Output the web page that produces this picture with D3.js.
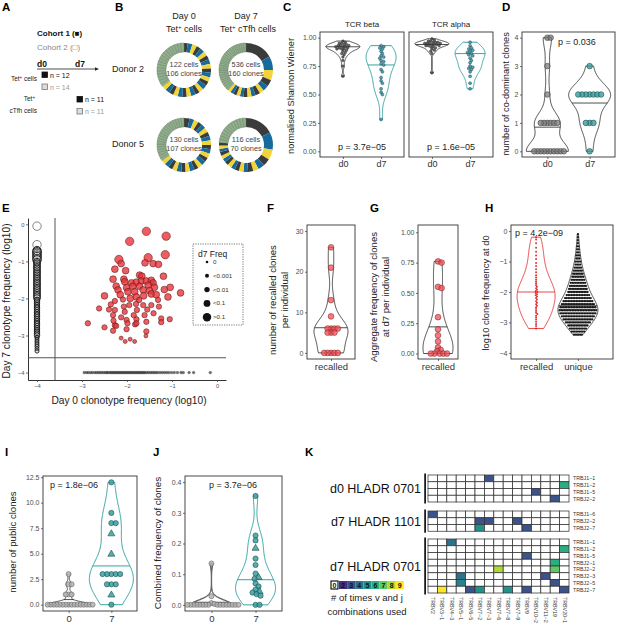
<!DOCTYPE html>
<html><head><meta charset="utf-8">
<script src="https://cdn.jsdelivr.net/npm/d3@7"></script>
<style>body{margin:0;background:#fff}</style>
</head><body><script>
// ================= DATA =================
// A
const tetCellsN = [12, 14];
const tfhCellsN = [11, 11];
// B donuts (order: Donor2 d0, Donor2 d7, Donor5 d0, Donor5 d7)
const donutDays = ["Day 0", "Day 7"];
const donutSubs = ["cells", "cTfh cells"];
const donorNames = ["Donor 2", "Donor 5"];
const donutCells = [122, 536, 130, 116];
const donutClones = [106, 160, 107, 70];
const donutExpanded = [
  [8,10,10,9,10,10,9,10,10,9,10,10,9,10,10,9,10,10,9,10,10,9,10,10],
  [60,30,22,15,12,10,10,9,9,8,8,8,7,7,7],
  [12,10,10,9,10,10,9,10,10,9,10,10,9,10,10,9,10,10,9,10,10,9,10,10],
  [62,38,22,16,14,12,11,10,10,9,9,9,8,8,8,8,7,7,7]
];
const donutSingles = [18, 26, 20, 12];
const donutSingleWeight = [7, 5.3, 6.25, 7];
// C
const cFacets = ["TCR beta", "TCR alpha"];
const cBetaD0 = [0.97,0.96,0.95,0.95,0.94,0.94,0.93,0.93,0.93,0.92,0.92,0.92,0.91,0.91,0.9,0.9,0.89,0.88,0.87,0.86,0.85,0.83,0.8,0.75,0.66,0.9];
const cBetaD7 = [0.93,0.92,0.91,0.9,0.88,0.86,0.84,0.83,0.82,0.8,0.79,0.77,0.76,0.72,0.7,0.65,0.62,0.6,0.55,0.52,0.5,0.28];
const cAlphaD0 = [0.99,0.98,0.97,0.97,0.96,0.96,0.96,0.95,0.95,0.95,0.95,0.94,0.94,0.94,0.93,0.93,0.93,0.92,0.92,0.91,0.9,0.89,0.88,0.86,0.69];
const cAlphaD7 = [0.96,0.93,0.91,0.9,0.89,0.88,0.87,0.86,0.85,0.84,0.82,0.8,0.78,0.75,0.74,0.73,0.72,0.7,0.66,0.6,0.55];
const cLines = [[0.92, 0.76], [0.94, 0.86]];
const cP = ["p = 3.7e\u221205", "p = 1.6e\u221205"];
const days = ["d0", "d7"];
// D
const dD0 = [4,4,3,2,1,1,1,1,1,1,0,0,0,0,0,0,0,0,0,0];
const dD7 = [3,2,2,2,2,2,2,2,1,1,1,0];
const dLines = [0.85, 1.7];
// E
const eRecalled = [
[-1.57,-0.19],[-1.13,-0.32],[-1.94,-0.46],[-1.15,-0.82],[-1.53,-0.9],[-2.18,-0.95],[-2.13,-1.06],[-1.6,-1.04],[-1.42,-1.06],[-1.3,-1.08],
[-2.03,-1.25],[-2.27,-1.21],[-2.31,-1.48],[-2.07,-1.48],[-1.72,-1.37],[-1.67,-1.4],[-1.19,-1.4],[-2.05,-1.55],[-1.9,-1.58],[-1.79,-1.56],
[-1.68,-1.53],[-1.57,-1.53],[-1.46,-1.51],[-1.42,-1.58],[-2.24,-1.67],[-2.01,-1.71],[-1.87,-1.67],[-1.72,-1.67],[-1.53,-1.64],[-1.39,-1.7],
[-2.2,-1.77],[-1.98,-1.82],[-1.83,-1.82],[-1.64,-1.77],[-1.5,-1.79],[-1.17,-1.76],[-1.04,-1.7],[-0.81,-1.85],[-2.5,-1.93],[-1.79,-1.96],
[-1.63,-1.93],[-1.46,-1.88],[-2.09,-2.03],[-1.93,-2.0],[-1.73,-2.04],[-1.31,-2.04],[-1.09,-1.96],[-2.27,-2.07],[-2.36,-2.16],[-2.07,-2.22],
[-1.95,-2.18],[-1.8,-2.15],[-1.64,-2.18],[-1.46,-2.18],[-1.29,-2.22],[-2.62,-2.27],[-2.27,-2.31],[-2.05,-2.36],[-1.78,-2.31],[-1.61,-2.45],
[-1.41,-2.4],[-1.24,-2.54],[-1.05,-2.56],[-2.31,-2.45],[-2.13,-2.51],[-2.01,-2.58],[-1.79,-2.56],[-1.57,-2.63],[-2.5,-2.78],[-2.27,-2.72],
[-2.24,-2.74],[-1.99,-2.67],[-1.82,-2.7],[-1.79,-2.67],[-2.87,-2.67],[-1.24,-2.64],[-2.31,-2.87],[-2.01,-2.83],[-1.57,-2.89],[-1.58,-3.01],
[-2.13,-3.07],[-2.04,-3.16],[-1.93,-3.1],[-1.83,-3.16],[-2.3,-2.6],[-1.85,-2.45],[-2.15,-1.9],[-1.55,-2.3],[-1.35,-1.9],[-2.4,-2.3]
];
const eD7OnlyY = [-0.05,-0.55,-0.71,-0.74,-0.78,-0.83,-0.87,-0.92,-0.96,-1.01,-1.05,-1.1,-1.15,-1.19,-1.24,-1.29,-1.33,-1.38,-1.43,-1.47,-1.52,-1.57,-1.61,-1.66,-1.71,-1.75,-1.8,-1.85,-1.9,-1.94,-1.99,-2.04,-2.08,-2.13,-2.18,-2.23,-2.27,-2.32,-2.37,-2.42,-2.46,-2.51,-2.56,-2.61,-2.66,-2.7,-2.75,-2.8,-2.85,-2.9,-2.95,-3.0,-3.05,-3.1,-3.15,-3.2,-3.25,-3.3,-3.36,-3.42];
const eD0OnlyX = [-2.95,-2.9,-2.86,-2.81,-2.77,-2.72,-2.68,-2.64,-2.6,-2.56,-2.52,-2.48,-2.45,-2.42,-2.38,-2.35,-2.32,-2.29,-2.26,-2.23,-2.2,-2.17,-2.14,-2.11,-2.08,-2.05,-2.02,-1.99,-1.96,-1.93,-1.9,-1.87,-1.84,-1.81,-1.78,-1.75,-1.72,-1.69,-1.66,-1.63,-1.6,-1.56,-1.52,-1.48,-1.44,-1.4,-1.36,-1.32,-1.27,-1.22,-1.17,-1.12,-1.07,-1.01,-0.95,-0.88,-0.8,-0.75,-0.62,-0.52,-0.15];
const eTicks = [-4,-3,-2,-1,0];
const eThreshold = -3.6;
const eSizeBreaks = [-3.99,-3,-2,-1];
const eLegendLabels = ["0","<0.001","<0.01","<0.1",">0.1"];
// F, G
const fValues = [26,21,13,9,6,6,6,6,5,5,5,0,0,0,0,0];
const fLine = 6.2;
const gValues = [0.76,0.75,0.55,0.54,0.3,0.2,0.15,0.1,0.05,0.03,0.02,0,0,0,0,0];
const gLine = 0.22;
// H
const hGroups = ["recalled","unique"];
const hRecalled = [-0.2,-0.28,-0.4,-0.55,-0.68,-0.8,-0.92,-1.05,-1.15,-1.25,-1.35,-1.45,-1.52,-1.6,-1.66,-1.72,-1.78,-1.83,-1.88,-1.93,-1.97,-2.0,-2.03,-2.07,-2.11,-2.15,-2.2,-2.25,-2.3,-2.35,-2.4,-2.45,-2.5,-2.56,-2.62,-2.68,-2.72,-2.78,-2.84,-2.9,-2.98,-3.05,-3.12,-3.2];
const hUniqueBins = [-3.4,-3.3,-3.2,-3.1,-3.0,-2.9,-2.8,-2.7,-2.6,-2.5,-2.4,-2.3,-2.2,-2.1,-2.0,-1.9,-1.8,-1.7,-1.6,-1.5,-1.4,-1.3,-1.2,-1.1,-1.0,-0.9,-0.8,-0.7,-0.6,-0.5,-0.4,-0.3,-0.2,-0.1];
const hUniqueCounts = [6,9,11,13,16,19,21,23,24,23,21,19,17,15,13,12,11,10,9,8,7,6,5,4,4,3,3,2,2,2,1,1,1,1];
const hLines = [-2.0, -2.45];
// I, J
const ijDays = ["0","7"];
const iD0 = [0,0,0,0,0,0,0,0,0,0,0,0,0,0,0,0,1,1,1,2,2,3];
const iD7 = [12,9,8,8,7,5,3,3,3,3,3,2,2,2,1,0];
const iD7Cohort = [1,1,1,1,2,2,1,1,1,1,1,1,1,1,2,1];
const iLines = [0.5, 3.8];
const jD0 = [0.135,0.028,0.006,0.003,0,0,0,0,0,0,0,0,0,0,0,0,0,0,0,0];
const jD7 = [0.355,0.226,0.21,0.186,0.151,0.13,0.102,0.091,0.085,0.07,0.06,0.05,0.045,0.04,0.035,0.03,0,0];
const jD7Cohort = [1,1,1,2,1,1,1,2,1,1,1,1,2,1,1,1,1,1];
const jLines = [0.008, 0.082];
// K
const kColumns = ["TRBV2","TRBV3\u22121","TRBV4\u22123","TRBV5\u22121","TRBV6\u22125","TRBV7\u22122","TRBV7\u22123","TRBV7\u22126","TRBV7\u22128","TRBV7\u22129","TRBV9","TRBV10\u22122","TRBV11\u22122","TRBV19","TRBV20\u22121"];
const kBlockLabels = ["d0 HLADR 0701","d7 HLADR 1101","d7 HLADR 0701"];
const kRowsA = ["TRBJ1\u22121","TRBJ1\u22122","TRBJ1\u22125","TRBJ2\u22122"];
const kRowsB = ["TRBJ1\u22126","TRBJ2\u22122","TRBJ2\u22127"];
const kRowsC = ["TRBJ1\u22121","TRBJ1\u22122","TRBJ1\u22125","TRBJ2\u22121","TRBJ2\u22122","TRBJ2\u22123","TRBJ2\u22125","TRBJ2\u22127"];
const kCellsA = [[0,6,3],[1,14,6],[2,11,3],[3,13,3]];
const kCellsB = [[0,0,3],[1,5,3],[1,6,3],[1,9,3],[2,5,5],[2,10,3]];
const kCellsC = [[0,2,4],[1,14,6],[2,10,3],[3,13,6],[4,7,8],[4,13,7],[5,3,4],[5,12,3],[6,3,4.5],[6,13,3],[7,1,9],[7,4,3],[7,5,5],[7,8,5],[7,10,3],[7,14,3]];
const kLegendValues = [0,2,3,4,5,6,7,8,9];

// ================= SETUP =================
const FONT = '"Liberation Sans", Arial, Helvetica, sans-serif';
const TEAL = "#1f9a9a", TEALPT = "#3a9e9e", RED = "#e8343a";
const svg = d3.select("body").append("svg").attr("width",617).attr("height",630).attr("font-family",FONT);

function T(x,y,s,o={}){
  const t = svg.append("text").attr("x",x).attr("y",y).attr("font-size",o.fs||8)
    .attr("fill",o.fill||"#1a1a1a").attr("text-anchor",o.a||"start").text(s);
  if(o.bold) t.attr("font-weight","bold");
  if(o.rot!=null) t.attr("transform",`rotate(${o.rot},${x},${y})`);
  return t;
}
function Tsup(x,y,base,sup,rest,o={}){
  const fs=o.fs||8; const t=T(x,y,"",o);
  t.append("tspan").text(base);
  t.append("tspan").attr("dy",-fs*0.38).attr("font-size",fs*0.68).text(sup);
  t.append("tspan").attr("dy",fs*0.38).text(rest);
  return t;
}
function letter(x,y,s){ T(x,y,s,{fs:11.5,bold:true,fill:"#000"}); }
function styleAxis(g,fs,col){
  g.attr("font-family",FONT).attr("font-size",fs);
  g.selectAll("text").attr("fill",col||"#4d4d4d");
  g.selectAll(".tick line").attr("stroke","#333").attr("stroke-width",0.7);
}
function box(x0,x1,y0,y1){
  svg.append("rect").attr("x",x0).attr("y",y0).attr("width",x1-x0).attr("height",y1-y0)
    .attr("fill","none").attr("stroke","#333").attr("stroke-width",0.9);
}
function yAxis(y,x0,ticks,fmt,fs){
  const g=svg.append("g").attr("transform",`translate(${x0},0)`)
    .call(d3.axisLeft(y).tickValues(ticks).tickFormat(fmt).tickSize(2).tickPadding(1.5));
  g.select(".domain").remove(); styleAxis(g,fs||7);
}
function xAxis(x,y1,fs){
  const g=svg.append("g").attr("transform",`translate(0,${y1})`)
    .call(d3.axisBottom(x).tickSize(2).tickPadding(2));
  g.select(".domain").remove(); styleAxis(g,fs||9,"#333");
}
function kde(values){
  const s=values.slice().sort(d3.ascending), n=s.length;
  const sd=d3.deviation(s)||0;
  const iqr=d3.quantile(s,0.75)-d3.quantile(s,0.25);
  let lo=Math.min(sd,iqr/1.34); if(!(lo>0)) lo = sd || Math.abs(s[0]) || 1;
  const bw=0.9*lo*Math.pow(n,-0.2);
  const f=t=>d3.sum(s,v=>Math.exp(-0.5*((t-v)/bw)**2));
  return {f,lo:s[0],hi:s[n-1]};
}
function violin(values,y,cx,halfW,stroke,lineVal,sw){
  const k=kde(values), N=140;
  const prof=d3.range(N+1).map(i=>{const v=k.lo+(k.hi-k.lo)*i/N; return {v,d:k.f(v)};});
  const m=d3.max(prof,d=>d.d);
  prof.forEach(d=>d.w=d.d/m*halfW);
  const area=d3.area().y(d=>y(d.v)).x0(d=>cx-d.w).x1(d=>cx+d.w);
  svg.append("path").attr("d",area(prof)).attr("fill","none").attr("stroke",stroke).attr("stroke-width",sw||0.8);
  if(lineVal!=null){
    const w=Math.max(k.f(lineVal)/m*halfW,1.5);
    svg.append("line").attr("x1",cx-w).attr("x2",cx+w).attr("y1",y(lineVal)).attr("y2",y(lineVal))
      .attr("stroke",stroke).attr("stroke-width",sw||0.8);
  }
}
function swarm(values,y,cx,dist){
  const pts=values.map((v,i)=>({v,i,py:y(v)})).sort((a,b)=>a.py-b.py||a.i-b.i);
  const placed=[]; const step=dist*0.25;
  pts.forEach(p=>{
    for(let k=0;k<400;k++){
      const off=(k%2?1:-1)*Math.ceil(k/2)*step;
      const px=cx+off;
      if(placed.every(q=>(q.px-px)**2+(q.py-p.py)**2>=dist*dist-1e-6)){p.px=px;break;}
    }
    placed.push(p);
  });
  return pts;
}
function points(values,y,cx,dist,r,fill,stroke,o={}){
  const pts=swarm(values,y,cx,dist);
  pts.forEach(p=>{
    const tri = o.cohort && o.cohort[p.i]===2;
    if(tri){
      svg.append("path").attr("d",d3.symbol(d3.symbolTriangle,r*r*3.2)())
        .attr("transform",`translate(${p.px},${p.py+0.5})`)
        .attr("fill",fill).attr("fill-opacity",o.op||1).attr("stroke",stroke).attr("stroke-width",o.sw||0.6);
    } else {
      svg.append("circle").attr("cx",p.px).attr("cy",p.py).attr("r",r)
        .attr("fill",fill).attr("fill-opacity",o.op||1).attr("stroke",stroke).attr("stroke-width",o.sw||0.6);
    }
  });
}

// ================= A =================
letter(2,11,"A");
T(37,36,"Cohort 1 (\u25A0)",{fs:8,bold:true,fill:"#111"});
T(37,50,"Cohort 2 (\u25A1)",{fs:8,fill:"#888"});
T(37,66.5,"d0",{fs:8.5,bold:true,fill:"#111"});
T(75,66.5,"d7",{fs:8.5,bold:true,fill:"#111"});
svg.append("line").attr("x1",37).attr("x2",96).attr("y1",69).attr("y2",69).attr("stroke","#222").attr("stroke-width",0.8);
svg.append("path").attr("d","M99,69 L95,67.3 L95,70.7 Z").attr("fill","#222");
Tsup(37,81,"Tet","+"," cells",{fs:6.5,a:"end"});
Tsup(35,101,"Tet","+","",{fs:6.5,a:"end"});
T(37,113,"cTfh cells",{fs:6.5,a:"end"});
[[42,72,tetCellsN[0],0],[42,84,tetCellsN[1],1],[77,96.5,tfhCellsN[0],0],[77,108.5,tfhCellsN[1],1]].forEach(([x,y,n,c])=>{
  svg.append("rect").attr("x",x).attr("y",y).attr("width",5.5).attr("height",5.5)
    .attr("fill",c?"#ddd":"#111").attr("stroke",c?"#777":"#111").attr("stroke-width",0.8);
  T(x+8,y+5.5,"n = "+n,{fs:7,fill:c?"#999":"#111"});
});

// ================= B =================
letter(115,11,"B");
const dCols=[184,246], dRows=[70,145];
T(dCols[0],18.5,donutDays[0],{fs:9,a:"middle",fill:"#222"});
Tsup(dCols[0],32,"Tet","+"," "+donutSubs[0],{fs:9,a:"middle",fill:"#222"});
T(dCols[1],18.5,donutDays[1],{fs:9,a:"middle",fill:"#222"});
Tsup(dCols[1]+2,32,"Tet","+"," "+donutSubs[1],{fs:9,a:"middle",fill:"#222"});
donorNames.forEach((n,i)=>T(112,dRows[i]+1.5,n,{fs:9,fill:"#222"}));
const donutPal=["#3b3b3b","#166b9c","#f2d33a"];
const arc=d3.arc().innerRadius(18).outerRadius(27);
const pie=d3.pie().sort(null).value(d=>d.w);
donutExpanded.forEach((exp,di)=>{
  const cx=dCols[di%2], cy=dRows[Math.floor(di/2)];
  const segs=exp.map((w,i)=>({w,c:donutPal[i%3],g:false}));
  for(let s=0;s<donutSingles[di];s++) segs.push({w:donutSingleWeight[di],c:"#92ae8e",g:true});
  const g=svg.append("g").attr("transform",`translate(${cx},${cy})`);
  g.selectAll("path").data(pie(segs)).join("path").attr("d",arc)
    .attr("fill",d=>d.data.c).attr("stroke",d=>d.data.g?"#5f7f5c":"none").attr("stroke-width",0.45);
  T(cx,cy-3.5,donutCells[di]+" cells",{fs:7.3,a:"middle",fill:"#444"});
  T(cx,cy+6,donutClones[di]+" clones",{fs:7.3,a:"middle",fill:"#444"});
});

// ================= C =================
letter(283,11,"C");
const cy0=32, cy1=157;
const cY=d3.scaleLinear([-0.05,1.05],[cy1,cy0]);
const cBoxes=[[320,404],[409,493]];
const cData=[[cBetaD0,cBetaD7],[cAlphaD0,cAlphaD7]];
cBoxes.forEach(([x0,x1],fi)=>{
  const xs=d3.scalePoint().domain(days).range([x0,x1]).padding(0.6);
  box(x0,x1,cy0,cy1);
  T((x0+x1)/2,27,cFacets[fi],{fs:8,a:"middle",fill:"#222"});
  violin(cData[fi][0],cY,xs("d0"),17,"#222",cLines[fi][0],0.8);
  violin(cData[fi][1],cY,xs("d7"),15,TEAL,cLines[fi][1],0.9);
  points(cData[fi][0],cY,xs("d0"),2.4,1.3,"#444","#222",{op:0.8,sw:0.4});
  points(cData[fi][1],cY,xs("d7"),2.6,1.5,TEALPT,"#235",{op:0.9,sw:0.4});
  xAxis(xs,cy1,9);
  T((x0+x1)/2,150,cP[fi],{fs:9,a:"middle",fill:"#222"});
});
yAxis(cY,320,[0,0.25,0.5,0.75,1],d3.format(".2f"),7);
T(294,96,"normalised Shannon Wiener",{fs:9.2,a:"middle",rot:-90,fill:"#222"});

// ================= D =================
letter(502,11,"D");
const dY=d3.scaleLinear([-0.2,4.2],[cy1,cy0]);
const dX=d3.scalePoint().domain(days).range([522,615]).padding(0.6);
box(522,615,cy0,cy1);
violin(dD0,dY,dX("d0"),21,"#222",dLines[0],0.8);
violin(dD7,dY,dX("d7"),21,"#222",dLines[1],0.8);
points(dD0,dY,dX("d0"),3.3,2.8,"#7a7a7a","#444",{op:0.75,sw:0.6});
points(dD7,dY,dX("d7"),3.8,2.8,TEALPT,"#1d5050",{op:0.8,sw:0.6});
yAxis(dY,522,[0,1,2,3,4],d3.format("d"),7);
xAxis(dX,cy1,9);
T(577,45,"p = 0.036",{fs:9,a:"middle",fill:"#222"});
T(509,94,"number of co-dominant clones",{fs:9.2,a:"middle",rot:-90,fill:"#222"});

// ================= E =================
letter(2,212,"E");
const eX=d3.scaleLinear([-4.2,0.2],[28,226]);
const eY=d3.scaleLinear([-4.2,0.17],[380,218]);
const eR=d3.scaleThreshold().domain(eSizeBreaks).range([1.3,2.0,2.7,3.4,4.2]);
const gxE=svg.append("g").attr("transform","translate(0,380)").call(d3.axisBottom(eX).tickValues(eTicks).tickFormat(d3.format("d")).tickSize(2).tickSizeOuter(0).tickPadding(1.5));
styleAxis(gxE,5.8,"#555"); gxE.select(".domain").attr("stroke","#333");
const gyE=svg.append("g").attr("transform","translate(28,0)").call(d3.axisLeft(eY).tickValues(eTicks).tickFormat(d3.format("d")).tickSize(2).tickSizeOuter(0).tickPadding(1.5));
styleAxis(gyE,5.8,"#555"); gyE.select(".domain").attr("stroke","#333");
svg.append("line").attr("x1",eX(eThreshold)).attr("x2",eX(eThreshold)).attr("y1",218).attr("y2",380).attr("stroke","#555").attr("stroke-width",1);
svg.append("line").attr("x1",28).attr("x2",226).attr("y1",eY(eThreshold)).attr("y2",eY(eThreshold)).attr("stroke","#555").attr("stroke-width",1);
eD7OnlyY.forEach((v,i)=>svg.append("circle").attr("cx",eX(-4)).attr("cy",eY(v)).attr("r",eR(v))
  .attr("fill","#fff").attr("fill-opacity",0.2).attr("stroke",i<2?"#777":"#111").attr("stroke-width",0.9));
eD0OnlyX.forEach(v=>svg.append("circle").attr("cx",eX(v)).attr("cy",eY(-4)).attr("r",1.4)
  .attr("fill","#333").attr("fill-opacity",0.7).attr("stroke","#333").attr("stroke-opacity",0.6).attr("stroke-width",0.4));
eRecalled.slice().sort((a,b)=>eR(b[1])-eR(a[1])).forEach(([x,y])=>svg.append("circle").attr("cx",eX(x)).attr("cy",eY(y)).attr("r",eR(y))
  .attr("fill",RED).attr("fill-opacity",0.8).attr("stroke","#4a1010").attr("stroke-width",0.5));
svg.append("rect").attr("x",193).attr("y",244).attr("width",50).attr("height",81).attr("fill","#fff")
  .attr("stroke","#555").attr("stroke-width",0.8).attr("stroke-dasharray","1.2,1.2");
T(198,257,"d7 Freq",{fs:8.5,fill:"#222"});
eLegendLabels.forEach((l,i)=>{
  const yy=262+i*13.8;
  svg.append("circle").attr("cx",207).attr("cy",yy).attr("r",eR.range()[i]).attr("fill","#111");
  T(213,yy+2,l,{fs:6.2,fill:"#333"});
});
T(129,404,"Day 0 clonotype frequency (log10)",{fs:10.2,a:"middle",fill:"#222"});
T(10,301,"Day 7 clonotype frequency (log10)",{fs:10.2,a:"middle",rot:-90,fill:"#222"});

// ================= F =================
letter(267,212,"F");
const fy0=225, fy1=359;
const fY=d3.scaleLinear([-1.5,31.5],[fy1,fy0]);
const fX=d3.scalePoint().domain(["recalled"]).range([307,355]).padding(0.5);
box(307,355,fy0,fy1);
violin(fValues,fY,fX("recalled"),17,"#222",fLine,0.8);
points(fValues,fY,fX("recalled"),3.4,2.9,"#ee4e55","#7a2020",{op:0.75,sw:0.5});
yAxis(fY,307,[0,10,20,30],d3.format("d"),7);
xAxis(fX,fy1,9.5);
T(276,300,"number of recalled clones",{fs:9.6,a:"middle",rot:-90,fill:"#222"});
T(288,300,"per individual",{fs:9.6,a:"middle",rot:-90,fill:"#222"});

// ================= G =================
letter(370,212,"G");
const gY=d3.scaleLinear([-0.045,1.06],[fy1,fy0]);
const gX=d3.scalePoint().domain(["recalled"]).range([418,458]).padding(0.5);
box(418,458,fy0,fy1);
violin(gValues,gY,gX("recalled"),15,"#222",gLine,0.8);
points(gValues,gY,gX("recalled"),3.6,2.9,"#ee4e55","#7a2020",{op:0.75,sw:0.5});
yAxis(gY,418,[0,0.25,0.5,0.75,1],d3.format(".2f"),7);
xAxis(gX,fy1,9.5);
T(377,297,"Aggregate frequency of clones",{fs:9.6,a:"middle",rot:-90,fill:"#222"});
T(389,297,"at d7 per individual",{fs:9.6,a:"middle",rot:-90,fill:"#222"});

// ================= H =================
letter(485,212,"H");
const hY=d3.scaleLinear([-4.2,0.2],[fy1,fy0]);
const hX=d3.scalePoint().domain(hGroups).range([511,603]).padding(0.6);
box(511,613,fy0,fy1);
const hUniqueAll=hUniqueBins.flatMap((b,i)=>d3.range(hUniqueCounts[i]).map(()=>b));
hUniqueBins.forEach((b,i)=>{
  const n=hUniqueCounts[i], sp=1.6;
  d3.range(n).forEach(j=>svg.append("circle").attr("cx",hX("unique")+(j-(n-1)/2)*sp).attr("cy",hY(b)).attr("r",1.15).attr("fill","#1a1a1a"));
});
violin(hUniqueAll,hY,hX("unique"),20,"#222",hLines[1],0.8);
violin(hRecalled,hY,hX("recalled"),19,"#e31a1c",hLines[0],0.8);
points(hRecalled,hY,hX("recalled"),1.7,1.0,"#e31a1c","none",{op:0.9,sw:0});
yAxis(hY,511,[-4,-3,-2,-1,0],d3.format("d"),7);
xAxis(hX,fy1,9.5);
T(515,236,"p = 4.2e\u221209",{fs:9,fill:"#222"});
T(489,293,"log10 clone frequency at d0",{fs:9.4,a:"middle",rot:-90,fill:"#222"});

// ================= I =================
letter(5,456,"I");
const iy0=476, iy1=611;
const iY=d3.scaleLinear([-0.62,12.62],[iy1,iy0]);
const iX=d3.scalePoint().domain(ijDays).range([43,137]).padding(0.6);
box(43,137,iy0,iy1);
violin(iD0,iY,iX("0"),22,"#222",iLines[0],0.8);
violin(iD7,iY,iX("7"),22,TEAL,iLines[1],0.9);
points(iD0,iY,iX("0"),3.0,2.5,"#b3b3b3","#666",{op:0.85,sw:0.6});
points(iD7,iY,iX("7"),4.4,2.6,TEALPT,"#1d5050",{op:0.85,sw:0.6,cohort:iD7Cohort});
yAxis(iY,43,[0,2.5,5,7.5,10,12.5],d3.format(".1f"),7);
xAxis(iX,iy1,9.5);
T(50,488,"p = 1.8e\u221206",{fs:9,fill:"#222"});
T(16,542,"number of public clones",{fs:9.6,a:"middle",rot:-90,fill:"#222"});

// ================= J =================
letter(153,456,"J");
const jY=d3.scaleLinear([-0.02,0.42],[iy1,iy0]);
const jX=d3.scalePoint().domain(ijDays).range([185,282]).padding(0.6);
box(185,282,iy0,iy1);
violin(jD0,jY,jX("0"),20,"#666",jLines[0],1.4);
violin(jD7,jY,jX("7"),20,TEAL,jLines[1],0.9);
points(jD0,jY,jX("0"),3.0,2.5,"#b3b3b3","#666",{op:0.85,sw:0.6});
points(jD7,jY,jX("7"),4.0,2.6,TEALPT,"#1d5050",{op:0.85,sw:0.6,cohort:jD7Cohort});
yAxis(jY,185,[0,0.1,0.2,0.3,0.4],d3.format(".1f"),7);
xAxis(jX,iy1,9.5);
T(233,488,"p = 3.7e\u221206",{fs:9,a:"middle",fill:"#222"});
T(161,543,"Combined frequency of clones",{fs:9.8,a:"middle",rot:-90,fill:"#222"});

// ================= K =================
letter(305,456,"K");
const kColor=d3.scaleSequential(d3.interpolateViridis).domain([1,9]);
const kX=d3.scaleBand().domain(kColumns).range([428,569]);
const kRowH=6.75, kTops=[475,511,539];
[[kRowsA,kCellsA],[kRowsB,kCellsB],[kRowsC,kCellsC]].forEach(([rows,cells],bi)=>{
  const ky=d3.scaleBand().domain(d3.range(rows.length)).range([kTops[bi],kTops[bi]+rows.length*kRowH]);
  const val={}; cells.forEach(([r,c,v])=>val[r+"_"+c]=v);
  rows.forEach((rn,ri)=>{
    kColumns.forEach((cn,ci)=>{
      const v=val[ri+"_"+ci];
      svg.append("rect").attr("x",kX(cn)).attr("y",ky(ri)).attr("width",kX.bandwidth()).attr("height",ky.bandwidth())
        .attr("fill",v?kColor(v):"#fff").attr("stroke","#333").attr("stroke-width",0.75);
    });
    T(573,ky(ri)+ky.bandwidth()/2+2,rn,{fs:5.3,fill:"#333"});
  });
  const y0=kTops[bi]-1.5, y1=kTops[bi]+rows.length*kRowH+1.5;
  svg.append("rect").attr("x",424.3).attr("y",y0).attr("width",1.6).attr("height",y1-y0).attr("fill","#000");
  T(421,(y0+y1)/2+4.5,kBlockLabels[bi],{fs:12.5,a:"end",fill:"#111"});
});
kColumns.forEach(c=>T(kX(c)+kX.bandwidth()/2-1.8,597,c,{fs:5.3,rot:90,fill:"#333"}));
// legend
kLegendValues.forEach((v,i)=>{
  const x= i===0?331:339+(i-1)*8.1, w= i===0?7:8.1;
  svg.append("rect").attr("x",x).attr("y",581).attr("width",w).attr("height",8)
    .attr("fill",v?kColor(v):"#fff").attr("stroke",v?"none":"#000").attr("stroke-width",1.1);
  T(x+w/2,588,String(v),{fs:7,a:"middle",bold:true,fill:"#111"});
});
T(367,601,"# of times v and j",{fs:9.5,a:"middle",fill:"#222"});
T(367,615,"combinations used",{fs:9.5,a:"middle",fill:"#222"});
</script></body></html>
